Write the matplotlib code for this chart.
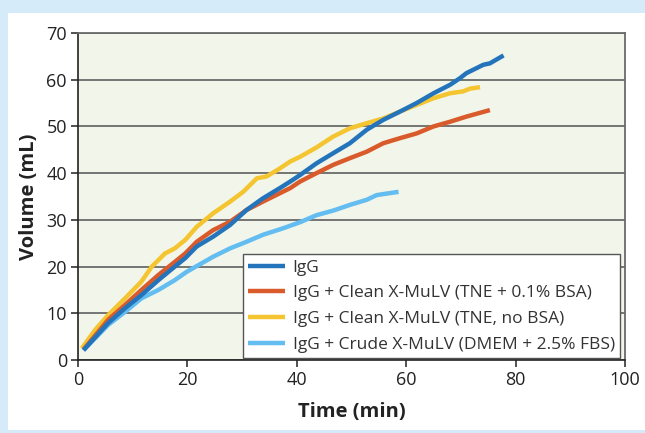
import matplotlib.pyplot as plt
from matplotlib.patches import Rectangle

# time (min) / volume (mL)
t_igg = [1.0, 5.5, 8.6, 11.6, 14.7, 17.7, 19.6, 21.7, 24.7, 27.8, 30.8, 33.8, 36.9, 38.8,
         40.6, 43.6, 46.7, 49.7, 52.8, 55.8, 58.9, 61.9, 65.0, 68.0, 69.8, 71.0, 74.1, 75.3, 77.8]
v_igg = [2.1, 7.9, 11.1, 13.9, 17.1, 20.0, 21.8, 24.3, 26.4, 28.9, 32.1, 34.6, 36.8, 38.2,
         39.6, 42.1, 44.3, 46.4, 49.3, 51.4, 53.2, 55.0, 57.1, 58.9, 60.3, 61.4, 63.2, 63.5, 65.2]

t_bsa = [1.0, 5.5, 8.6, 11.6, 14.7, 17.7, 19.6, 21.7, 24.7, 27.8, 30.8, 33.8, 36.9, 38.8,
         40.6, 43.6, 46.7, 49.7, 52.8, 55.8, 58.9, 61.9, 65.0, 68.0, 71.0, 75.3]
v_bsa = [2.2, 8.6, 11.8, 15.0, 18.2, 21.0, 22.8, 25.3, 27.8, 29.6, 32.1, 33.9, 35.7, 36.8,
         38.2, 40.0, 41.8, 43.2, 44.6, 46.4, 47.5, 48.5, 50.0, 51.0, 52.1, 53.5]

t_nobsa = [0.7, 3.1, 5.5, 8.6, 11.6, 13.5, 15.9, 17.7, 19.6, 21.7, 24.7, 27.8, 30.2, 32.7,
           34.5, 36.9, 38.8, 40.6, 43.6, 46.6, 49.7, 52.8, 55.8, 58.9, 61.9, 64.9, 68.0,
           70.4, 71.7, 73.5]
v_nobsa = [2.5, 6.4, 9.6, 13.2, 16.8, 20.0, 22.8, 23.9, 25.7, 28.5, 31.4, 33.9, 36.0, 38.9,
           39.3, 41.0, 42.5, 43.5, 45.5, 47.8, 49.6, 50.7, 51.7, 53.2, 54.6, 56.0, 57.1,
           57.5, 58.1, 58.4]

t_crude = [1.0, 5.5, 8.6, 11.6, 14.7, 17.7, 19.9, 24.7, 27.8, 30.8, 33.8, 37.5, 40.6, 43.6,
           46.7, 49.7, 52.8, 54.6, 58.6]
v_crude = [2.1, 7.5, 10.3, 13.2, 15.0, 17.1, 18.9, 22.1, 23.9, 25.3, 26.8, 28.2, 29.5, 31.0,
           32.0, 33.2, 34.3, 35.3, 36.0]

labels = ["IgG",
          "IgG + Clean X-MuLV (TNE + 0.1% BSA)",
          "IgG + Clean X-MuLV (TNE, no BSA)",
          "IgG + Crude X-MuLV (DMEM + 2.5% FBS)"]
colors = ["#2474bb", "#d95b2b", "#f5c531", "#64bdf0"]

plt.rcParams['font.family'] = ['Open Sans', 'DejaVu Sans']

fig = plt.figure(figsize=(6.45, 4.33), dpi=100, facecolor="#d6ebf9")
panel = Rectangle((8/645, 3/433), 1, 417/433, transform=fig.transFigure,
                  facecolor="white", edgecolor="none", zorder=-10)
fig.add_artist(panel)
ax = fig.add_axes([78/645, 73/433, 547/645, 327/433])
ax.set_zorder(1)
ax.set_facecolor("#f2f6ea")

series = [(t_igg, v_igg), (t_bsa, v_bsa), (t_nobsa, v_nobsa), (t_crude, v_crude)]
# light blue drawn first, blue last
for i in [3, 2, 1, 0]:
    t, v = series[i]
    ax.plot(t, v, color=colors[i], lw=3.2, label=labels[i], solid_capstyle="butt",
            zorder=3 + (3 - i))

ax.set_xlim(0, 100)
ax.set_ylim(0, 70)
ax.set_xticks(range(0, 101, 20))
ax.set_yticks(range(0, 71, 10))
ax.yaxis.grid(True, color="#6a6a6a", lw=1.3)
ax.set_axisbelow(True)

for s in ["top", "right"]:
    ax.spines[s].set_color("#6a6a6a")
    ax.spines[s].set_linewidth(1.3)
for s in ["left", "bottom"]:
    ax.spines[s].set_color("#222222")
    ax.spines[s].set_linewidth(1.2)
ax.tick_params(direction="out", length=5, width=1.1, color="#222222", labelsize=13,
               labelcolor="#222222", pad=3)

ax.set_xlabel("Time (min)", fontsize=14.5, fontweight="bold", color="#222222", labelpad=9)
ax.set_ylabel("Volume (mL)", fontsize=14.5, fontweight="bold", color="#222222", labelpad=5)

handles, labs = ax.get_legend_handles_labels()
order = [labs.index(l) for l in labels]
leg = ax.legend([handles[k] for k in order], labels, loc="lower right", fontsize=12.5,
                fancybox=False, framealpha=1, edgecolor="#555555",
                bbox_to_anchor=(0.991, 0.006), borderaxespad=0,
                handlelength=2.1, labelspacing=0.55, handletextpad=0.45, borderpad=0.3)
leg.get_frame().set_linewidth(1.0)
for txt in leg.get_texts():
    txt.set_color("#333333")

fig.savefig("out.png", dpi=100, facecolor=fig.get_facecolor())
